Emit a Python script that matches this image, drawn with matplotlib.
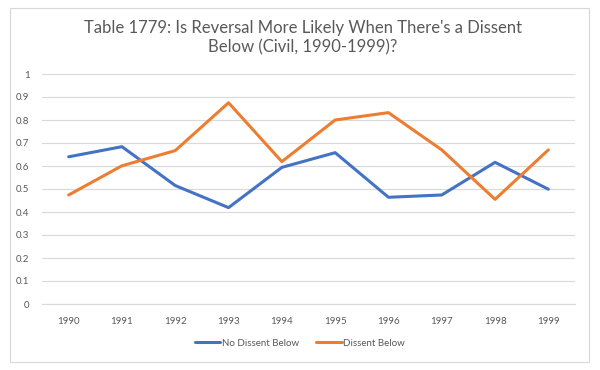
import matplotlib
matplotlib.use("Agg")
import matplotlib.pyplot as plt
from matplotlib.patches import Rectangle

years = ["1990", "1991", "1992", "1993", "1994", "1995", "1996", "1997", "1998", "1999"]
no_dissent = [0.64, 0.684, 0.515, 0.419, 0.594, 0.658, 0.464, 0.474, 0.616, 0.499]
dissent = [0.474, 0.601, 0.667, 0.875, 0.619, 0.80, 0.832, 0.67, 0.455, 0.67]
yticks = [0, 0.1, 0.2, 0.3, 0.4, 0.5, 0.6, 0.7, 0.8, 0.9, 1]
ytick_labels = ["0", "0.1", "0.2", "0.3", "0.4", "0.5", "0.6", "0.7", "0.8", "0.9", "1"]

plt.rcParams['font.family'] = ['Lato', 'DejaVu Sans']
W, H = 600, 370
fig = plt.figure(figsize=(6, 3.7), dpi=100)
fig.patch.set_facecolor("white")
fig.add_artist(Rectangle((10 / W, 1 - 362 / H), 579 / W, 354 / H, transform=fig.transFigure,
                         fill=False, edgecolor="#D9D9D9", linewidth=0.8))

ax = fig.add_axes([42 / W, 1 - 304 / H, (575 - 42) / W, (304 - 74) / H])
x = list(range(len(years)))
ax.plot(x, no_dissent, color="#4472C4", linewidth=2.2, label="No Dissent Below", solid_capstyle="round")
ax.plot(x, dissent, color="#ED7D31", linewidth=2.2, label="Dissent Below", solid_capstyle="round")
ax.set_xlim(-0.5, 9.5)
ax.set_ylim(0, 1)
ax.set_yticks(yticks)
ax.set_yticklabels(ytick_labels)
ax.set_xticks(x)
ax.set_xticklabels(years)
ax.yaxis.grid(True, color="#D9D9D9", linewidth=0.8)
ax.set_axisbelow(True)
for s in ["top", "right", "left"]:
    ax.spines[s].set_visible(False)
ax.spines["bottom"].set_color("#D9D9D9")
ax.spines["bottom"].set_linewidth(0.8)
ax.tick_params(axis="both", length=0, labelsize=7, labelcolor="#595959")
ax.tick_params(axis="x", pad=9)
ax.tick_params(axis="y", pad=9)

fig.text(0.505, 1 - 38 / H, "Table 1779: Is Reversal More Likely When There's a Dissent\nBelow (Civil, 1990-1999)?",
         ha="center", va="center", fontsize=12, color="#595959", linespacing=1.25)

leg = fig.legend(loc="center", bbox_to_anchor=(0.5, 1 - 343 / H), ncol=2, frameon=False,
                 fontsize=7, handlelength=2.6, handletextpad=0.15, columnspacing=1.8)
for t in leg.get_texts():
    t.set_color("#595959")

fig.savefig("out.png", dpi=100, facecolor="white")
